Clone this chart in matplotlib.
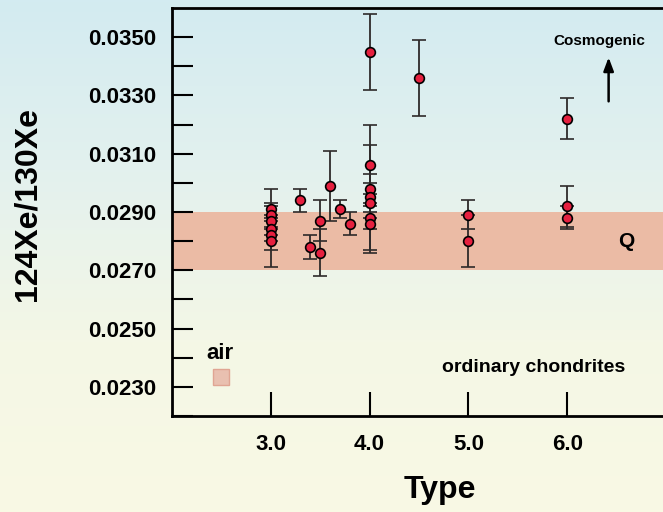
import numpy as np
import matplotlib
matplotlib.use("Agg")
import matplotlib.pyplot as plt
from matplotlib.colors import LinearSegmentedColormap

plt.rcParams['font.family'] = ['Liberation Sans', 'DejaVu Sans']
plt.rcParams['font.weight'] = 'bold'

# chondrite data: petrologic type, 124Xe/130Xe, error
types = [3.0, 3.0, 3.0, 3.0, 3.0, 3.0,
         3.3, 3.4, 3.5, 3.5, 3.6, 3.7, 3.8,
         4.0, 4.0, 4.0, 4.0, 4.0, 4.0, 4.0,
         4.5, 5.0, 5.0, 6.0, 6.0, 6.0]
ratio = [0.0291, 0.0289, 0.0287, 0.0284, 0.0282, 0.0280,
         0.0294, 0.0278, 0.0287, 0.0276, 0.0299, 0.0291, 0.0286,
         0.0345, 0.0306, 0.0298, 0.0295, 0.0293, 0.0288, 0.0286,
         0.0336, 0.0289, 0.0280, 0.0322, 0.0292, 0.0288]
err = [0.0007, 0.0004, 0.0005, 0.0004, 0.0005, 0.0009,
       0.0004, 0.0004, 0.0007, 0.0008, 0.0012, 0.0003, 0.0004,
       0.0013, 0.0014, 0.0005, 0.0018, 0.0003, 0.0012, 0.0002,
       0.0013, 0.0005, 0.0009, 0.0007, 0.0007, 0.0004]

q_band = (0.0270, 0.0290)
air_point = (2.5, 0.02335)

yticks = [0.0230, 0.0250, 0.0270, 0.0290, 0.0310, 0.0330, 0.0350]
yminor = [0.0220, 0.0240, 0.0260, 0.0280, 0.0300, 0.0320, 0.0340]
xticks = [3.0, 4.0, 5.0, 6.0]

fig = plt.figure(figsize=(6.63, 5.12), dpi=100)

# background gradient over whole figure
bg = fig.add_axes([0, 0, 1, 1], zorder=-10)
cmap = LinearSegmentedColormap.from_list(
    "bg", ["#d3ebf1", "#e3f1ee", "#f4f7e6", "#f9f9e4"])
grad = np.linspace(0, 1, 256).reshape(-1, 1)
bg.imshow(grad, aspect='auto', cmap=cmap, extent=[0, 1, 0, 1], origin='upper')
bg.axis('off')

ax = fig.add_axes([0.2594, 0.1875, 0.745, 0.797])
ax.patch.set_alpha(0)
ax.set_xlim(2.0, 7.0)
ax.set_ylim(0.0220, 0.0360)

ax.axhspan(q_band[0], q_band[1], color='#ebbba5', zorder=1, lw=0)

ax.errorbar(types, ratio, yerr=err, fmt='o', ms=7, mfc='#e5203f', mec='black',
            mew=1.2, ecolor='#2e2a2a', elinewidth=1.3, capsize=5, capthick=1.3,
            zorder=3)

ax.plot(*air_point, marker='s', ms=12, mfc='#e9c0b0', mec='#e0a593', mew=1,
        zorder=3)
ax.text(2.49, 0.02415, "air", fontsize=16, fontweight='bold',
        ha='center', va='center')
ax.text(6.6, 0.0280, "Q", fontsize=15, fontweight='bold', ha='center', va='center')
ax.text(5.66, 0.02366, "ordinary chondrites", fontsize=14, fontweight='bold',
        ha='center', va='center')
ax.text(6.33, 0.03487, "Cosmogenic", fontsize=11, fontweight='bold',
        ha='center', va='center')
ax.annotate("", xy=(6.42, 0.03440), xytext=(6.42, 0.03270),
            arrowprops=dict(arrowstyle='-|>,head_length=0.8,head_width=0.3',
                            color='black', lw=1.8))

ax.set_yticks(yticks)
ax.set_yticks(yminor, minor=True)
ax.set_yticklabels([f"{v:.4f}" for v in yticks])
ax.set_xticks(xticks)
ax.set_xticklabels([f"{v:.1f}" for v in xticks])

ax.tick_params(axis='y', which='both', direction='in', length=15, width=1.5,
               labelsize=16, pad=11)
ax.tick_params(axis='x', which='major', direction='in', length=17, width=1.5,
               labelsize=16, pad=13)
for lab in ax.get_xticklabels() + ax.get_yticklabels():
    lab.set_fontweight('bold')

for s in ['left', 'bottom', 'top']:
    ax.spines[s].set_linewidth(2)
ax.spines['right'].set_visible(False)

ax.set_ylabel("124Xe/130Xe", fontsize=23, fontweight='bold')
ax.yaxis.set_label_coords(-0.262, 0.52)
ax.set_xlabel("Type", fontsize=23, fontweight='bold')
ax.xaxis.set_label_coords(0.5425, -0.145)

fig.savefig("out.png", dpi=100)
